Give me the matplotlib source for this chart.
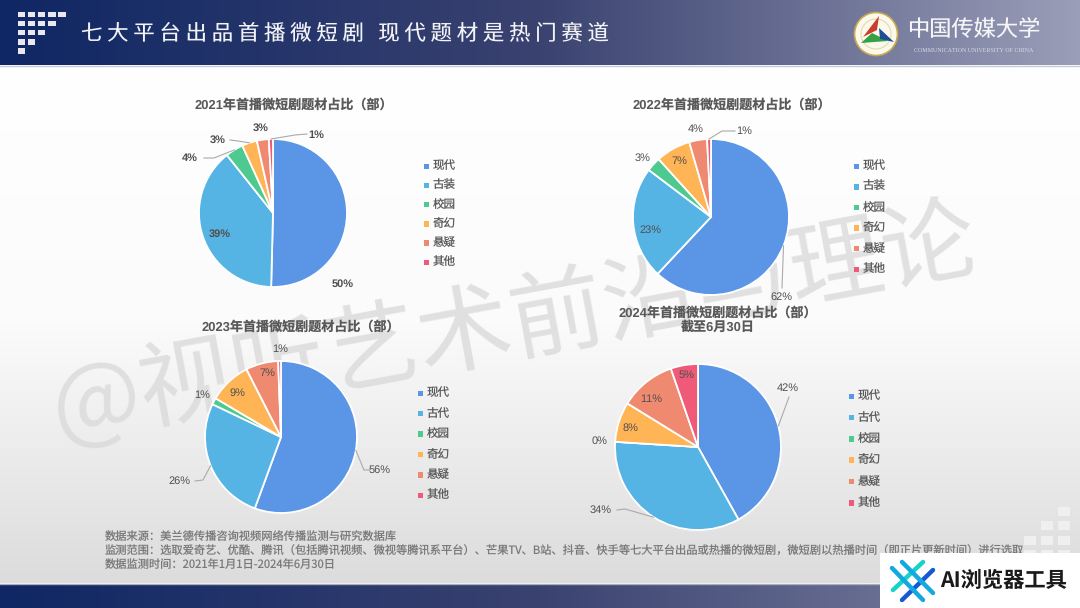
import numpy as np
import matplotlib
matplotlib.use("Agg")
import matplotlib.pyplot as plt
from matplotlib.colors import LinearSegmentedColormap
from matplotlib.patches import Rectangle, Circle, Polygon

plt.rcParams['font.family'] = ['Noto Sans CJK SC', 'DejaVu Sans']
plt.rcParams['text.hinting'] = 'no_hinting'
plt.rcParams['text.hinting_factor'] = 1
chart_font = ['Liberation Sans', 'Noto Sans CJK SC']

# data (slice sizes estimated, labels round them)
values_2021 = [50.4, 38.9, 3.9, 3.3, 2.6, 0.9]
values_2022 = [62.0, 23.3, 3.0, 7.2, 3.7, 0.8]
values_2023 = [55.6, 26.5, 1.4, 9.0, 6.9, 0.6]
values_2024 = [41.9, 34.1, 0.0, 7.8, 10.9, 5.3]
legend_2021 = ["现代", "古装", "校园", "奇幻", "悬疑", "其他"]
legend_2022 = ["现代", "古装", "校园", "奇幻", "悬疑", "其他"]
legend_2023 = ["现代", "古代", "校园", "奇幻", "悬疑", "其他"]
legend_2024 = ["现代", "古代", "校园", "奇幻", "悬疑", "其他"]
colors = ["#5b95e6", "#56b4e5", "#4ec98f", "#ffb455", "#ef8a70", "#ee5a78"]

title_main = "七 大 平 台 出 品 首 播 微 短 剧   现 代 题 材 是 热 门 赛 道"
source_lines = [
    "数据来源：美兰德传播咨询视频网络传播监测与研究数据库",
    "监测范围：选取爱奇艺、优酷、腾讯（包括腾讯视频、微视等腾讯系平台）、芒果TV、B站、抖音、快手等七大平台出品或热播的微短剧，微短剧以热播时间（即正片更新时间）进行选取",
    "数据监测时间：2021年1月1日-2024年6月30日",
]

W, H = 1080, 608
fig = plt.figure(figsize=(W / 100, H / 100), dpi=100)

# background layer, pixel coordinates
bg = fig.add_axes([0, 0, 1, 1], zorder=0)
bg.set_xlim(0, W)
bg.set_ylim(H, 0)
bg.axis("off")

grey = LinearSegmentedColormap.from_list("grey", ["#ffffff", "#fbfbfb", "#dcdcdc"])
bg.imshow(np.linspace(0, 1, 256).reshape(-1, 1), cmap=grey, extent=[0, W, 583, 65], aspect="auto")
head = LinearSegmentedColormap.from_list("head", ["#0f2764", "#3a4270", "#9a9eb8"])
bg.imshow(np.linspace(0, 1, 256).reshape(1, -1), cmap=head, extent=[0, W, 65, 0], aspect="auto")
foot = LinearSegmentedColormap.from_list("foot", ["#0f2764", "#3a4270", "#8388a6"])
bg.imshow(np.linspace(0, 1, 256).reshape(1, -1), cmap=foot, extent=[0, W, 608, 584], aspect="auto")
bg.set_xlim(0, W)
bg.set_ylim(H, 0)
bg.plot([0, W], [65.5, 65.5], color="#c5c9d8", lw=1)
bg.plot([0, W], [583.5, 583.5], color="#a9adbc", lw=1)

# watermark
bg.text(515, 327, "@视听艺术前沿与理论", fontsize=68, color="#dadada", alpha=0.8,
        rotation=10.5, rotation_mode="anchor", ha="center", va="center")

# small squares, header
for row in range(5):
    for col in range(5 - row):
        bg.add_patch(Rectangle((17.5 + col * 10.2, 11.5 + row * 9.2), 7.5, 5.5, color="#e8e8ee", lw=0))
# small squares, lower right
for col, first in zip([1024, 1041, 1058], [2, 1, 0]):
    for row in range(first, 4):
        bg.add_patch(Rectangle((col, 507 + row * 14.4), 12, 9, color="#efefef", lw=0))

bg.text(81, 33, title_main, fontsize=15.4, color="#f2f3f7", ha="left", va="center")

# logo
bg.add_patch(Circle((876, 34), 21.5, facecolor="#fbf8ec", edgecolor="#c9a94f", lw=1.2))
bg.add_patch(Circle((876, 34), 15, facecolor="none", edgecolor="#e6d9a8", lw=0.8))
bg.add_patch(Polygon([[879, 16], [863, 37], [877, 30]], color="#c8402c", lw=0))
bg.add_patch(Polygon([[861, 43], [872, 33], [888, 41]], color="#35a046", lw=0))
bg.add_patch(Polygon([[879, 28], [894, 42], [880, 39]], color="#1d4f94", lw=0))
bg.text(974, 30, "中国传媒大学", fontsize=16, color="#f6f6f8", ha="center", va="center", weight="light")
bg.text(974, 51, "COMMUNICATION UNIVERSITY OF CHINA", fontsize=4.3, color="#d9dbe5", ha="center", va="center",
        family="Liberation Serif")

# top layer for labels and legends
top = fig.add_axes([0, 0, 1, 1], zorder=2)
top.set_xlim(0, W)
top.set_ylim(H, 0)
top.axis("off")


def draw_pie(values, names, cx, cy, r, title, title_x, title_y, label_pos, leaders, bold, leg_x, leg_y, leg_step):
    ax = fig.add_axes([(cx - r - 2) / W, 1 - (cy + r + 2) / H, (2 * r + 4) / W, (2 * r + 4) / H], zorder=1)
    wedges, _ = ax.pie(values, colors=colors, startangle=90, counterclock=False, radius=1,
                       wedgeprops={"edgecolor": "white", "linewidth": 1.3})
    k = (r + 2) / r
    ax.set_xlim(-k, k)
    ax.set_ylim(-k, k)
    ax.set_aspect("equal")

    top.text(title_x, title_y, title, fontsize=9.4, weight="bold", color="#595959",
             ha="center", va="center", linespacing=1.15, family=chart_font)

    weight = "bold" if bold else "normal"
    for v, pos in zip(values, label_pos):
        top.text(pos[0], pos[1], "%d%%" % round(v), fontsize=8.2, weight=weight, color="#505050",
                 ha="center", va="center", family=chart_font)
    # leader lines start on the wedge edge
    for i, pts in leaders.items():
        a = np.radians((wedges[i].theta1 + wedges[i].theta2) / 2)
        xs = [cx + r * np.cos(a)] + [p[0] for p in pts]
        ys = [cy - r * np.sin(a)] + [p[1] for p in pts]
        top.plot(xs, ys, color="#aaaaaa", lw=0.8)

    for i, name in enumerate(names):
        y = leg_y + i * leg_step
        top.add_patch(Rectangle((leg_x - 2.5, y - 2.5), 5.5, 5.5, color=colors[i], lw=0))
        top.text(leg_x + 7, y, name, fontsize=8.3, color="#595959", ha="left", va="center")


draw_pie(values_2021, legend_2021, 273, 213, 74, "2021年首播微短剧题材占比（部）", 294, 105,
         [(343, 284), (220, 234), (190, 158), (218, 140), (261, 128), (316, 135)],
         {2: [(214, 158), (204, 158)], 3: [(238, 141), (230, 140)], 5: [(295, 135), (307, 134)]},
         True, 426, 166, 19.2)
draw_pie(values_2022, legend_2022, 711, 217, 78, "2022年首播微短剧题材占比（部）", 732, 105,
         [(781, 297), (650, 230), (643, 158), (679, 161), (696, 129), (744, 131)],
         {0: [(782, 288)], 5: [(722, 131), (735, 131)]}, False, 856, 166, 20.6)
draw_pie(values_2023, legend_2023, 281, 437, 76, "2023年首播微短剧题材占比（部）", 301, 327,
         [(380, 470), (179, 481), (202, 395), (237, 393), (267, 373), (280, 349)],
         {0: [(364, 470), (370, 470)], 1: [(203, 480), (195, 481)]}, False, 420, 393, 20.4)
draw_pie(values_2024, legend_2024, 698, 447, 83, "2024年首播微短剧题材占比（部）\n截至6月30日", 718, 320,
         [(788, 388), (601, 510), (600, 441), (630, 428), (651, 399), (687, 375)],
         {0: [(789, 397)], 1: [(625, 509), (617, 510)]}, False, 851, 396, 21.3)

# source note
for line, y in zip(source_lines, [537, 551, 565]):
    top.text(105, y, line, fontsize=8.1, color="#7a7a7a", ha="left", va="center")

# badge in the corner
top.add_patch(Rectangle((880, 553), 200, 55, color="white", lw=0, zorder=5))
top.plot([893, 923], [590, 562], color="#16d3c8", lw=3.2, zorder=6, solid_capstyle="round")
top.plot([902, 933], [600, 570], color="#1558d6", lw=3.2, zorder=6, solid_capstyle="round")
top.plot([892, 923], [568, 600], color="#12a8e0", lw=3.2, zorder=7, solid_capstyle="round")
top.plot([902, 933], [562, 593], color="#12a8e0", lw=3.2, zorder=7, solid_capstyle="round")
top.text(940, 581, "AI浏览器工具", fontsize=15.3, weight="bold", color="#1a1a1a", ha="left", va="center", zorder=6)

fig.savefig("out.png", dpi=100)
